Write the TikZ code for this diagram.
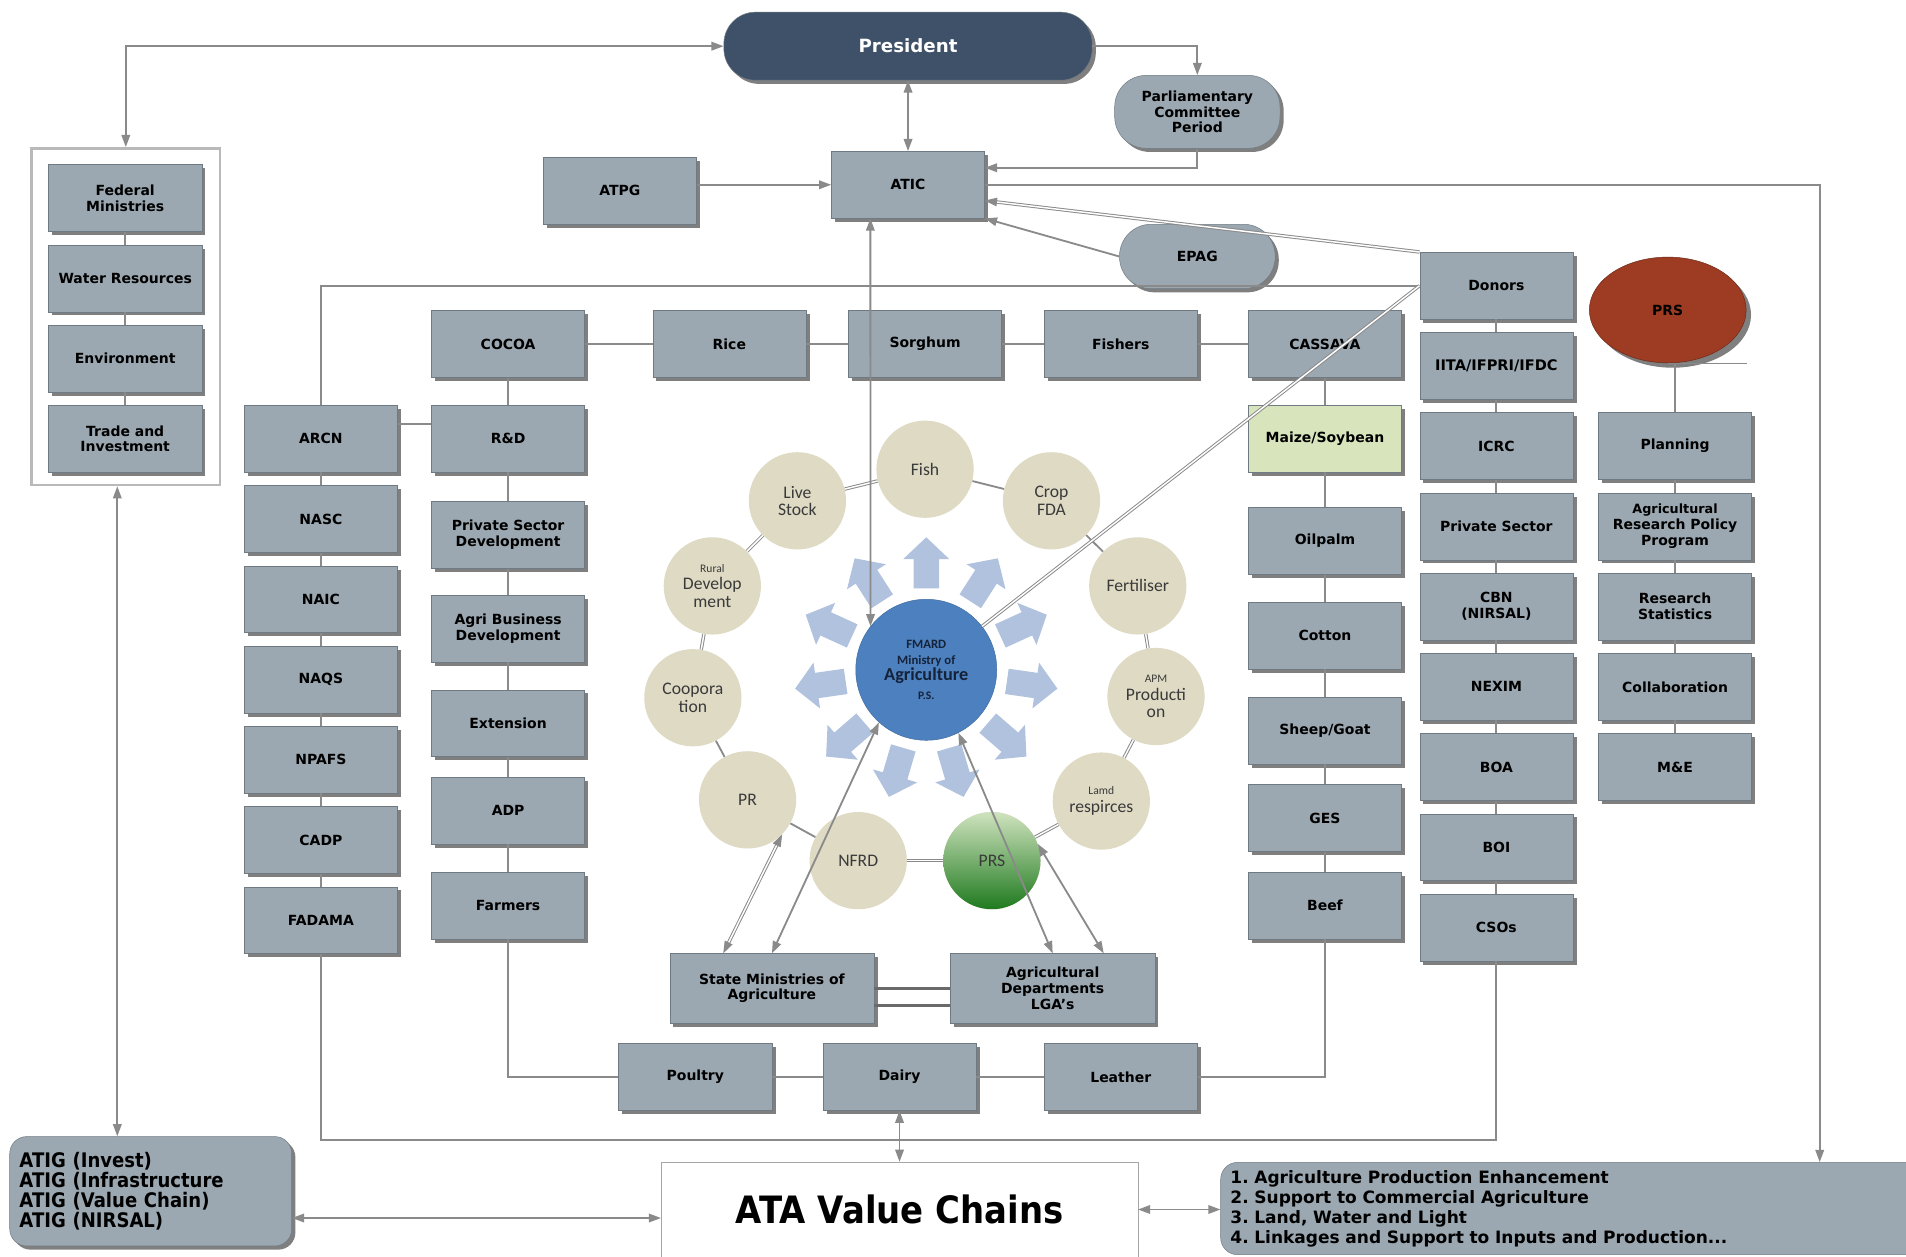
\documentclass[tikz,border=0pt]{standalone}
\usepackage{fontspec}
\setmainfont{DejaVu Sans}
\newfontfamily\circfont{Carlito}
\newfontfamily\narrowfont[FakeStretch = 0.9]{DejaVu Sans}
\usetikzlibrary{shapes.geometric, shadows, arrows.meta}
\frenchspacing
\begin{document}
\begin{tikzpicture}[x = 1pt, y = -1pt,
  box/.style = {draw = boxedge, fill = boxfill, minimum width = 126, minimum height = 55, align = center, font = \bfseries\fontsize{11.5}{13}\selectfont, drop shadow = {shadow xshift = 3pt, shadow yshift = -3pt, fill = black, opacity = 0.5}},
  pill/.style = {box, rounded corners = 26},
  ring/.style = {circle, fill = ringfill, minimum size = 80, inner sep = 0, align = center, text = ringtext, font = \circfont\fontsize{14.5}{14.5}\selectfont},
  link/.style = {draw = linkgray, line width = 1.5},
  twin/.style = {draw = linkgray, line width = 0.8, double = white, double distance = 1.2},
  heavy/.style = {draw = heavygray, line width = 2.8},
  oneway/.style = {-{Triangle[length = 10pt, width = 7pt]}},
  twoway/.style = {{Triangle[length = 10pt, width = 7pt]}-{Triangle[length = 10pt, width = 7pt]}}]
\definecolor{boxfill}{HTML}{9BA8B1}
\definecolor{boxedge}{HTML}{6F7A82}
\definecolor{presblue}{HTML}{3F5069}
\definecolor{ringfill}{HTML}{DEDAC4}
\definecolor{ringtext}{HTML}{3A3A3A}
\definecolor{fmardblue}{HTML}{4D80BE}
\definecolor{fmardtext}{HTML}{15233A}
\definecolor{arrowblue}{HTML}{B0C2DD}
\definecolor{prsred}{HTML}{9D3C22}
\definecolor{maizegreen}{HTML}{D8E4BC}
\definecolor{prstop}{HTML}{CFE3BE}
\definecolor{prsbot}{HTML}{1F7A1F}
\definecolor{linkgray}{HTML}{8A8A8A}
\definecolor{heavygray}{HTML}{6A6A6A}
\clip (0,0) rectangle (1568,1034);
\fill[white] (0,0) rectangle (1568,1034);
\pgfmathsetmacro\cx{762}
\pgfmathsetmacro\cy{551}
\foreach \i in {0,...,10} \fill[arrowblue, shift = {(\cx,\cy)}, shift = {({90-\i*360/11}:88pt)}, rotate = {90-\i*360/11}] (-21,-10.5) -- (3,-10.5) -- (3,-19) -- (21,0) -- (3,19) -- (3,10.5) -- (-21,10.5) -- cycle;
\node[pill, fill = presblue, text = white, minimum width = 303, minimum height = 56, font = \bfseries\fontsize{15}{17}\selectfont] (president) at (747,38) {President};
\node[pill, minimum width = 136, minimum height = 60, font = \bfseries\fontsize{11.5}{12.5}\selectfont] (parl) at (985,92) {Parliamentary\\Committee\\Period};
\node[box] (atpg) at (510,157) {ATPG};
\node[box] (atic) at (747,152) {ATIC};
\node[pill, minimum width = 128, minimum height = 53] (epag) at (985,211) {EPAG};
\node[draw = gray!55, line width = 2, minimum width = 155, minimum height = 277] (fedgroup) at (103.5,260.5) {};
\foreach \name/\text [count = \k from 0] in {fedmin/Federal\\Ministries, water/Water Resources, env/Environment, trade/Trade and\\Investment} \node[box] (\name) at (103,{163+66*\k}) {\text};
\foreach \name/\text [count = \k from 0] in {arcn/ARCN, nasc/NASC, naic/NAIC, naqs/NAQS, npafs/NPAFS, cadp/CADP, fadama/FADAMA} \node[box] (\name) at (264,{361+66*\k}) {\text};
\node[box] (cocoa) at (418,283) {COCOA};
\node[box] (rice) at (600,283) {Rice};
\node[box] (sorghum) at (761,283) {Sorghum};
\node[box] (fishers) at (922,283) {Fishers};
\node[box] (cassava) at (1090,283) {CASSAVA};
\node[box] (rd) at (418,361) {R\&D};
\node[box] (psd) at (418,440) {Private Sector\\Development};
\node[box] (abd) at (418,517) {Agri Business\\Development};
\node[box] (ext) at (418,595) {Extension};
\node[box] (adp) at (418,667) {ADP};
\node[box] (farmers) at (418,745) {Farmers};
\node[box, fill = maizegreen] (maize) at (1090,361) {Maize/Soybean};
\node[box] (oilpalm) at (1090,445) {Oilpalm};
\node[box] (cotton) at (1090,523) {Cotton};
\node[box] (sheep) at (1090,601) {Sheep/Goat};
\node[box] (ges) at (1090,673) {GES};
\node[box] (beef) at (1090,745) {Beef};
\foreach \name/\text [count = \k from 0] in {donors/Donors, iita/{\fontsize{12}{13}\selectfont IITA/IFPRI/IFDC}, icrc/ICRC, psec/Private Sector, cbn/CBN\\(NIRSAL), nexim/NEXIM, boa/BOA, boi/BOI, csos/CSOs} \node[box] (\name) at (1231,{235+66*\k}) {\text};
\node[ellipse, fill = prsred, draw = prsred!70!black, minimum width = 129, minimum height = 87, font = \bfseries\fontsize{11.5}{13}\selectfont, drop shadow = {shadow xshift = 4pt, shadow yshift = -4pt, fill = black, opacity = 0.5}] (prsr) at (1372,255) {PRS};
\foreach \name/\text [count = \k from 0] in {planning/Planning, arpp/{\fontsize{10.5}{12.5}\selectfont Agricultural\\Research Policy\\Program}, rstat/Research\\Statistics, collab/Collaboration, mande/M\&E} \node[box] (\name) at (1378,{367+66*\k}) {\text};
\node[box, minimum width = 168, minimum height = 57] (sma) at (635,813) {State Ministries of\\Agriculture};
\node[box, minimum width = 168, minimum height = 57] (agd) at (866,813) {Agricultural\\Departments\\LGA's};
\node[box] (poultry) at (572,886) {Poultry};
\node[box] (dairy) at (740,886) {Dairy};
\node[box] (leather) at (922,886) {Leather};
\coordinate (bus) at (740,938);
\node[draw = boxedge, fill = boxfill, rounded corners = 14, minimum width = 232, minimum height = 90, text width = 216, inner xsep = 8, align = left, font = \narrowfont\bfseries\fontsize{16.5}{16.5}\selectfont, drop shadow = {shadow xshift = 3pt, shadow yshift = -3pt, fill = black, opacity = 0.5}] (atig) at (124,980) {ATIG (Invest)\\ATIG (Infrastructure\\ATIG (Value Chain)\\ATIG (NIRSAL)};
\node[draw = gray!70, fill = white, minimum width = 392, minimum height = 78, font = \narrowfont\bfseries\fontsize{31}{32}\selectfont] (ata) at (740,995) {ATA Value Chains};
\node[anchor = north west, draw = boxedge, fill = boxfill, rounded corners = 14, minimum width = 620, minimum height = 76, text width = 604, inner xsep = 8, align = left, font = \bfseries\fontsize{14}{16.5}\selectfont] (numbox) at (1004,956) {1. Agriculture Production Enhancement\\2. Support to Commercial Agriculture\\3. Land, Water and Light\\4. Linkages and Support to Inputs and Production...};
\node[circle, fill = fmardblue, draw = fmardblue!85!black, minimum size = 116, inner sep = 0, align = center, text = fmardtext, font = \circfont\bfseries\fontsize{10.5}{13.5}\selectfont] (fmard) at (\cx,\cy) {FMARD\\Ministry of\\{\fontsize{15}{13}\selectfont Agriculture}\\[2pt]{\fontsize{9.5}{13}\selectfont P.S.}};
\node[ring] (fish) at (761,386) {Fish};
\node[ring] (crop) at (865,412) {Crop\\FDA};
\node[ring] (fert) at (936,482) {Fertiliser};
\node[ring] (apm) at (951,573) {{\fontsize{9.5}{10}\selectfont APM}\\Producti\\on};
\node[ring] (lamd) at (906,659) {{\fontsize{9.5}{10}\selectfont Lamd}\\respirces};
\node[ring, top color = prstop, bottom color = prsbot] (prsg) at (816,708) {PRS};
\node[ring] (nfrd) at (706,708) {NFRD};
\node[ring] (pr) at (615,658) {PR};
\node[ring] (coop) at (570,574) {Coopora\\tion};
\node[ring] (rural) at (586,482) {{\fontsize{9.5}{10}\selectfont Rural}\\Develop\\ment};
\node[ring] (live) at (656,412) {Live\\Stock};
\foreach \a/\b in {fish/crop, crop/fert, coop/pr, pr/nfrd} \draw[link] (\a) -- (\b);
\foreach \a/\b in {live/fish, rural/live, fert/apm, apm/lamd, lamd/prsg, prsg/nfrd, rural/coop} \draw[twin] (\a) -- (\b);
\foreach \a/\b in {fedmin/water, water/env, env/trade, arcn/nasc, nasc/naic, naic/naqs, naqs/npafs, npafs/cadp, cadp/fadama, cocoa/rd, rd/psd, psd/abd, abd/ext, ext/adp, adp/farmers, cocoa/rice, rice/sorghum, sorghum/fishers, fishers/cassava, cassava/maize, maize/oilpalm, oilpalm/cotton, cotton/sheep, sheep/ges, ges/beef, donors/iita, iita/icrc, icrc/psec, psec/cbn, cbn/nexim, nexim/boa, boa/boi, boi/csos, planning/arpp, arpp/rstat, rstat/collab, collab/mande, poultry/dairy, dairy/leather} \draw[link] (\a) -- (\b);
\draw[link] ([yshift = 12pt]arcn.east) -- ([yshift = 12pt]rd.west);
\draw[link] (prsr.south -| planning.north) -- (planning.north);
\draw[link, line width = 0.8] (prsr.south) -- ++(65,0);
\draw[link, twoway] (fedgroup.north) |- (president.west);
\draw[link, oneway] (president.east) -| (parl.north);
\draw[link, twoway] (president.south) -- (atic.north);
\draw[link, oneway] (parl.south) |- ([yshift = 14pt]atic.east);
\draw[link, oneway] (atpg.east |- atic.west) -- (atic.west);
\draw[link, oneway] (epag.west) -- (atic.south east);
\draw[twin, oneway] (donors.north west) -- ([yshift = -13pt]atic.east);
\draw[link, oneway] (atic.east) -| ([xshift = 493pt]numbox.north west);
\draw[link] (donors.west) -| (arcn.north);
\draw[twin] (donors.west) -- (fmard);
\draw[link, twoway] ([xshift = -31pt]atic.south) -- (fmard.142);
\draw[twin, twoway] ([xshift = -40pt]sma.north) -- (pr.-45);
\draw[link, twoway] (sma.north) -- (fmard.-132);
\draw[link, twoway] (agd.north) -- (fmard.-63);
\draw[link, twoway] ([xshift = 42pt]agd.north) -- (prsg.20);
\draw[heavy] (sma.east) -- (agd.west);
\draw[heavy] ([yshift = -14pt]sma.east) -- ([yshift = -14pt]agd.west);
\draw[link] (farmers.south) |- (poultry.west);
\draw[link] (leather.east) -| (beef.south);
\draw[link] (fadama.south) |- (bus) -| (csos.south);
\draw[link, twoway] (dairy.south) -- (ata.north);
\draw[link, twoway] ([xshift = -7pt]fedgroup.south) -- ([xshift = -7pt]fedgroup.south |- atig.north);
\draw[link, twoway] ([yshift = -22pt]atig.east) -- ([yshift = -22pt]atig.east -| ata.west);
\draw[link, twoway] (ata.east) -- (ata.east -| numbox.west);
\end{tikzpicture}
\end{document}
